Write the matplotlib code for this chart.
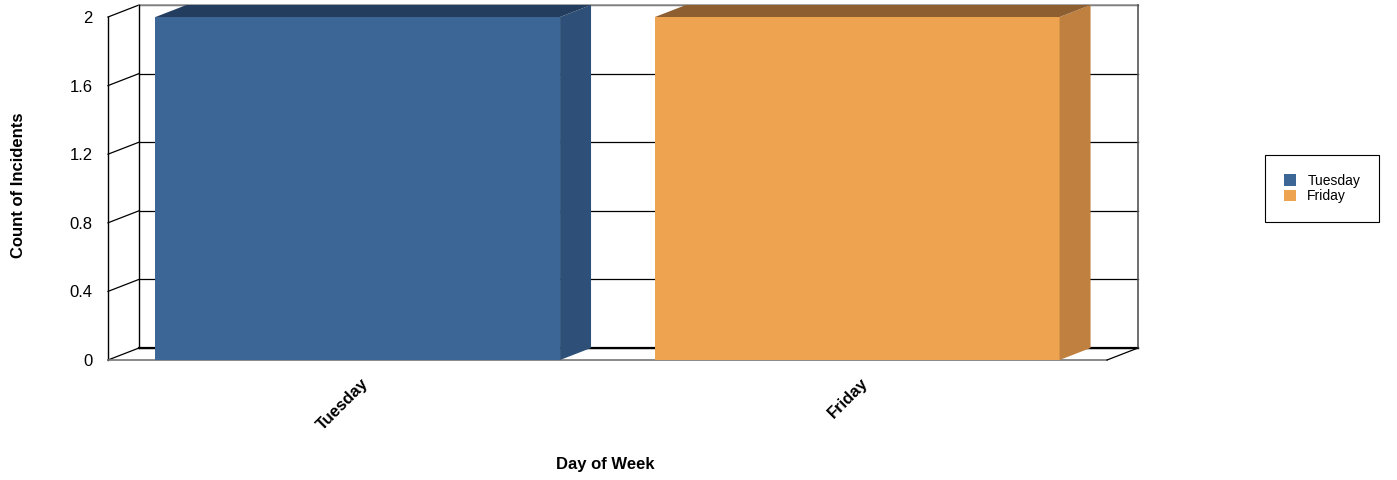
import matplotlib.pyplot as plt
from matplotlib.patches import Polygon

plt.rcParams['font.family'] = ['Liberation Sans', 'DejaVu Sans']

days = ["Tuesday", "Friday"]
counts = [2, 2]
front_colors = ["#3B6696", "#EEA351"]
side_colors = ["#2E5078", "#BF8040"]
top_colors = ["#233D5E", "#8C5E30"]
y_ticks = [0, 0.4, 0.8, 1.2, 1.6, 2]

# pseudo 3d depth, in data units
dx = 0.062
dy = 0.07
bar_w = 0.81
y_max = 2

fig = plt.figure(figsize=(13.97, 4.8), dpi=100)
ax = fig.add_axes([108 / 1397, 1 - 360 / 480, 1030 / 1397, 355 / 480])
ax.set_xlim(0, len(days) + dx)
ax.set_ylim(0, y_max + dy)
for s in ax.spines.values():
    s.set_visible(False)

n = len(days)
# back wall grid + left wall diagonals
for v in y_ticks:
    ax.plot([dx, n + dx], [v + dy, v + dy], color="black", lw=0.9, zorder=1, clip_on=False)
    ax.plot([0, dx], [v, v + dy], color="black", lw=0.9, zorder=1, clip_on=False)
ax.plot([dx, n + dx], [dy, dy], color="black", lw=1.6, zorder=1, clip_on=False)
ax.plot([dx, n + dx], [y_max + dy, y_max + dy], color="#999999", lw=1.2, zorder=1, clip_on=False)
ax.plot([n + dx, n + dx], [dy, y_max + dy], color="#555555", lw=1.2, zorder=1, clip_on=False)
ax.plot([dx, dx], [dy, y_max + dy], color="black", lw=1.0, zorder=1, clip_on=False)
ax.plot([0, 0], [0, y_max], color="black", lw=1.0, zorder=1, clip_on=False)
ax.plot([0, n], [0, 0], color="#777777", lw=1.2, zorder=1, clip_on=False)
ax.plot([n, n + dx], [0, dy], color="black", lw=0.9, zorder=1, clip_on=False)

for i, (d, c) in enumerate(zip(days, counts)):
    x0 = i + 0.5 - bar_w / 2
    x1 = i + 0.5 + bar_w / 2
    ax.add_patch(Polygon([(x0, 0), (x1, 0), (x1, c), (x0, c)], closed=True,
                         facecolor=front_colors[i], edgecolor="none", zorder=3, label=d))
    ax.add_patch(Polygon([(x1, 0), (x1 + dx, dy), (x1 + dx, c + dy), (x1, c)], closed=True,
                         facecolor=side_colors[i], edgecolor="none", zorder=3))
    ax.add_patch(Polygon([(x0, c), (x1, c), (x1 + dx, c + dy), (x0 + dx, c + dy)], closed=True,
                         facecolor=top_colors[i], edgecolor="none", zorder=3, clip_on=False))

ax.set_yticks(y_ticks)
ax.set_yticklabels(["0", "0.4", "0.8", "1.2", "1.6", "2"], fontsize=12)
ax.tick_params(axis="y", length=0, pad=11)
ax.set_xticks([i + 0.517 for i in range(n)])
ax.set_xticklabels(days, rotation=45, ha="right", va="center", rotation_mode="anchor",
                   fontsize=12, fontweight="bold")
ax.tick_params(axis="x", length=0, pad=15)

fig.text(19 / 1397, 1 - 185 / 480, "Count of Incidents", rotation=90, ha="center", va="center",
         fontsize=12, fontweight="bold")
fig.text(605 / 1397, 1 - 464 / 480, "Day of Week", ha="center", va="center",
         fontsize=12, fontweight="bold")

handles = [plt.Rectangle((0, 0), 1, 1, facecolor=col, edgecolor="none") for col in front_colors]
leg = fig.legend(handles, days, loc="upper left", bbox_to_anchor=(1265 / 1397, 1 - 155 / 480),
                 fontsize=10, fancybox=False, edgecolor="black", framealpha=1,
                 handlelength=0.9, handleheight=0.9, handletextpad=0.8,
                 borderpad=1.35, labelspacing=0.1, borderaxespad=0)
leg.get_frame().set_linewidth(0.8)

fig.savefig("out.png", dpi=100)
